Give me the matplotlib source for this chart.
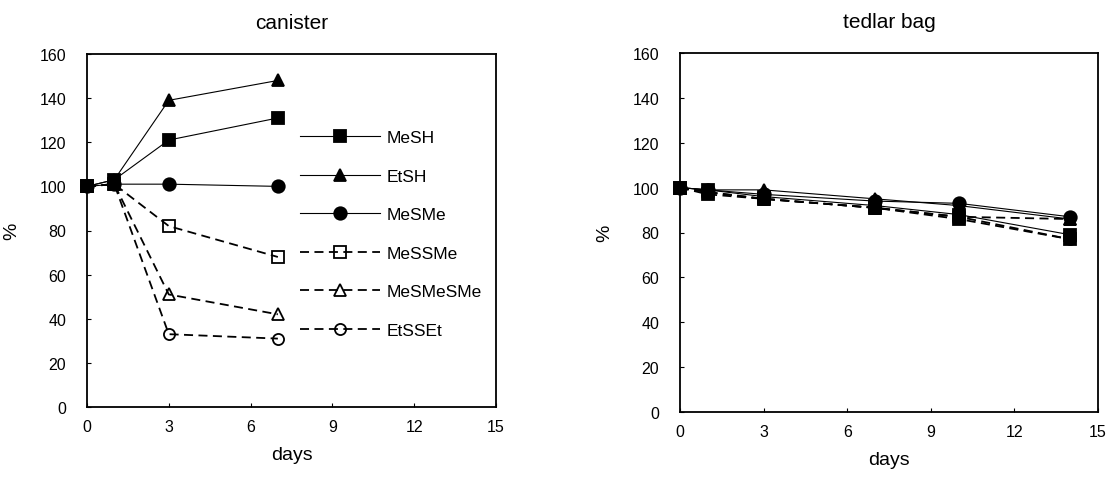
import matplotlib
matplotlib.use("Agg")
import matplotlib.pyplot as plt

plt.rcParams['font.family'] = ['Liberation Sans', 'DejaVu Sans']

names = ['MeSH', 'EtSH', 'MeSMe', 'MeSSMe', 'MeSMeSMe', 'EtSSEt']

# canister
can_days = [0, 1, 3, 7]
can_vals = {
    'MeSH': [100, 103, 121, 131],
    'EtSH': [100, 103, 139, 148],
    'MeSMe': [100, 101, 101, 100],
    'MeSSMe': [100, 101, 82, 68],
    'MeSMeSMe': [100, 101, 51, 42],
    'EtSSEt': [100, 101, 33, 31],
}

# tedlar bag
bag_days = [0, 1, 3, 7, 10, 14]
bag_vals = {
    'MeSH': [100, 99, 96, 92, 88, 79],
    'EtSH': [100, 99, 99, 95, 92, 86],
    'MeSMe': [100, 99, 97, 94, 93, 87],
    'MeSSMe': [100, 97, 95, 91, 86, 77],
    'MeSMeSMe': [100, 98, 95, 91, 87, 86],
    'EtSSEt': [100, 98, 95, 91, 87, 77],
}

styles = {
    'MeSH': dict(marker='s', ls='-', lw=0.8, mfc='black', ms=9),
    'EtSH': dict(marker='^', ls='-', lw=0.8, mfc='black', ms=9),
    'MeSMe': dict(marker='o', ls='-', lw=0.8, mfc='black', ms=9),
    'MeSSMe': dict(marker='s', ls=(0, (5, 3)), lw=1.3, mfc='none', ms=9),
    'MeSMeSMe': dict(marker='^', ls=(0, (5, 3)), lw=1.3, mfc='none', ms=9),
    'EtSSEt': dict(marker='o', ls=(0, (5, 3)), lw=1.3, mfc='none', ms=8),
}

fig = plt.figure(figsize=(11.15, 4.81), dpi=100)
ax1 = fig.add_axes([87 / 1115, 73 / 481, 409 / 1115, 353 / 481])
ax2 = fig.add_axes([680 / 1115, 68 / 481, 418 / 1115, 359 / 481])


def draw(ax, days, vals, title, bag=False):
    for n in names:
        st = dict(styles[n])
        if bag:
            st['mfc'] = 'black'
        ax.plot(days, vals[n], color='black', mec='black', mew=1.3, label=n,
                clip_on=False, zorder=3, **st)
    ax.set_xlim(0, 15)
    ax.set_ylim(0, 160)
    ax.set_xticks(range(0, 16, 3))
    ax.set_yticks(range(0, 161, 20))
    ax.tick_params(labelsize=11.5, length=3, width=0.8, direction='in')
    ax.tick_params(axis='x', pad=9)
    ax.tick_params(axis='y', pad=15)
    ax.set_xlabel('days', fontsize=14, labelpad=8)
    ax.set_ylabel('%', fontsize=14, labelpad=14)
    ax.set_title(title, fontsize=15, pad=19)
    for sp in ax.spines.values():
        sp.set_linewidth(1.3)


draw(ax1, can_days, can_vals, 'canister')
draw(ax2, bag_days, bag_vals, 'tedlar bag', bag=True)

ax1.legend(loc='center left', bbox_to_anchor=(0.52, 0.49), frameon=False,
           fontsize=12.5, handlelength=4.6, labelspacing=1.35, borderpad=0,
           borderaxespad=0, handletextpad=0.4)

fig.savefig('out.png', dpi=100)
